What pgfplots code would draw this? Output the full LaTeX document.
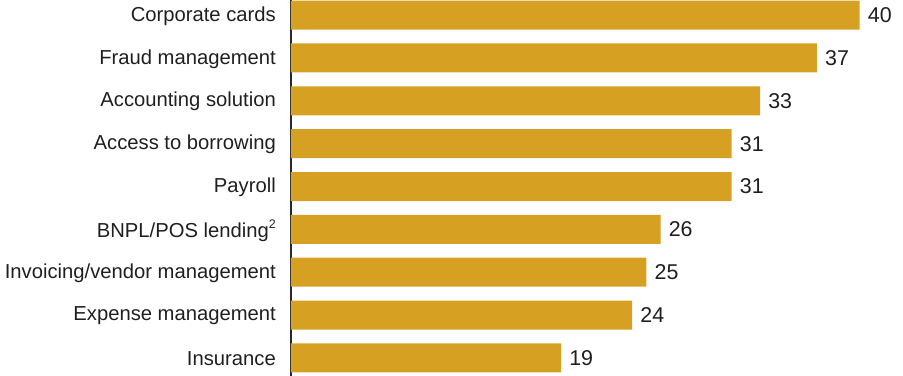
\documentclass[border=0pt]{standalone}
\usepackage{pgfplots}
\pgfplotsset{compat=1.18}
\usepackage{fontspec}
\setmainfont{Liberation Sans}
\definecolor{bargold}{RGB}{214,161,35}
\definecolor{axisdark}{RGB}{40,40,40}
\begin{document}
\begin{tikzpicture}
\begin{axis}[
  at={(0,0)}, anchor=south west,
  scale only axis,
  width=612bp, height=376bp,
  xbar, bar width=29bp,
  xmin=0, xmax=43.05,
  ymin=-0.35, ymax=8.42,
  y dir=reverse,
  axis x line=none,
  axis y line*=left,
  y axis line style={draw=axisdark, line width=1.6bp, -},
  ytick={0,1,2,3,4,5,6,7,8},
  yticklabels={Corporate cards, Fraud management, Accounting solution, Access to borrowing, Payroll, {BNPL/POS lending\raisebox{0.45em}{\fontsize{12.5}{13}\selectfont 2}}, Invoicing/vendor management, Expense management, Insurance},
  major tick length=0pt,
  yticklabel style={anchor=east, inner sep=0pt, xshift=-15bp, yshift=-1bp, font=\fontsize{20.3}{24}\selectfont, text=black!88},
  /pgf/number format/assume math mode=true,
  nodes near coords,
  nodes near coords align={horizontal},
  every node near coord/.append style={font=\fontsize{21.5}{24}\selectfont, text=black!88, inner sep=0pt, xshift=8bp},
  clip=false,
]
\addplot[fill=bargold, draw=none] coordinates {
(40,0) (37,1) (33,2) (31,3) (31,4) (26,5) (25,6) (24,7) (19,8)
};
\end{axis}
\pgfresetboundingbox
\path ([xshift=-291bp]current axis.south west) rectangle (current axis.north east);
\end{tikzpicture}
\end{document}
